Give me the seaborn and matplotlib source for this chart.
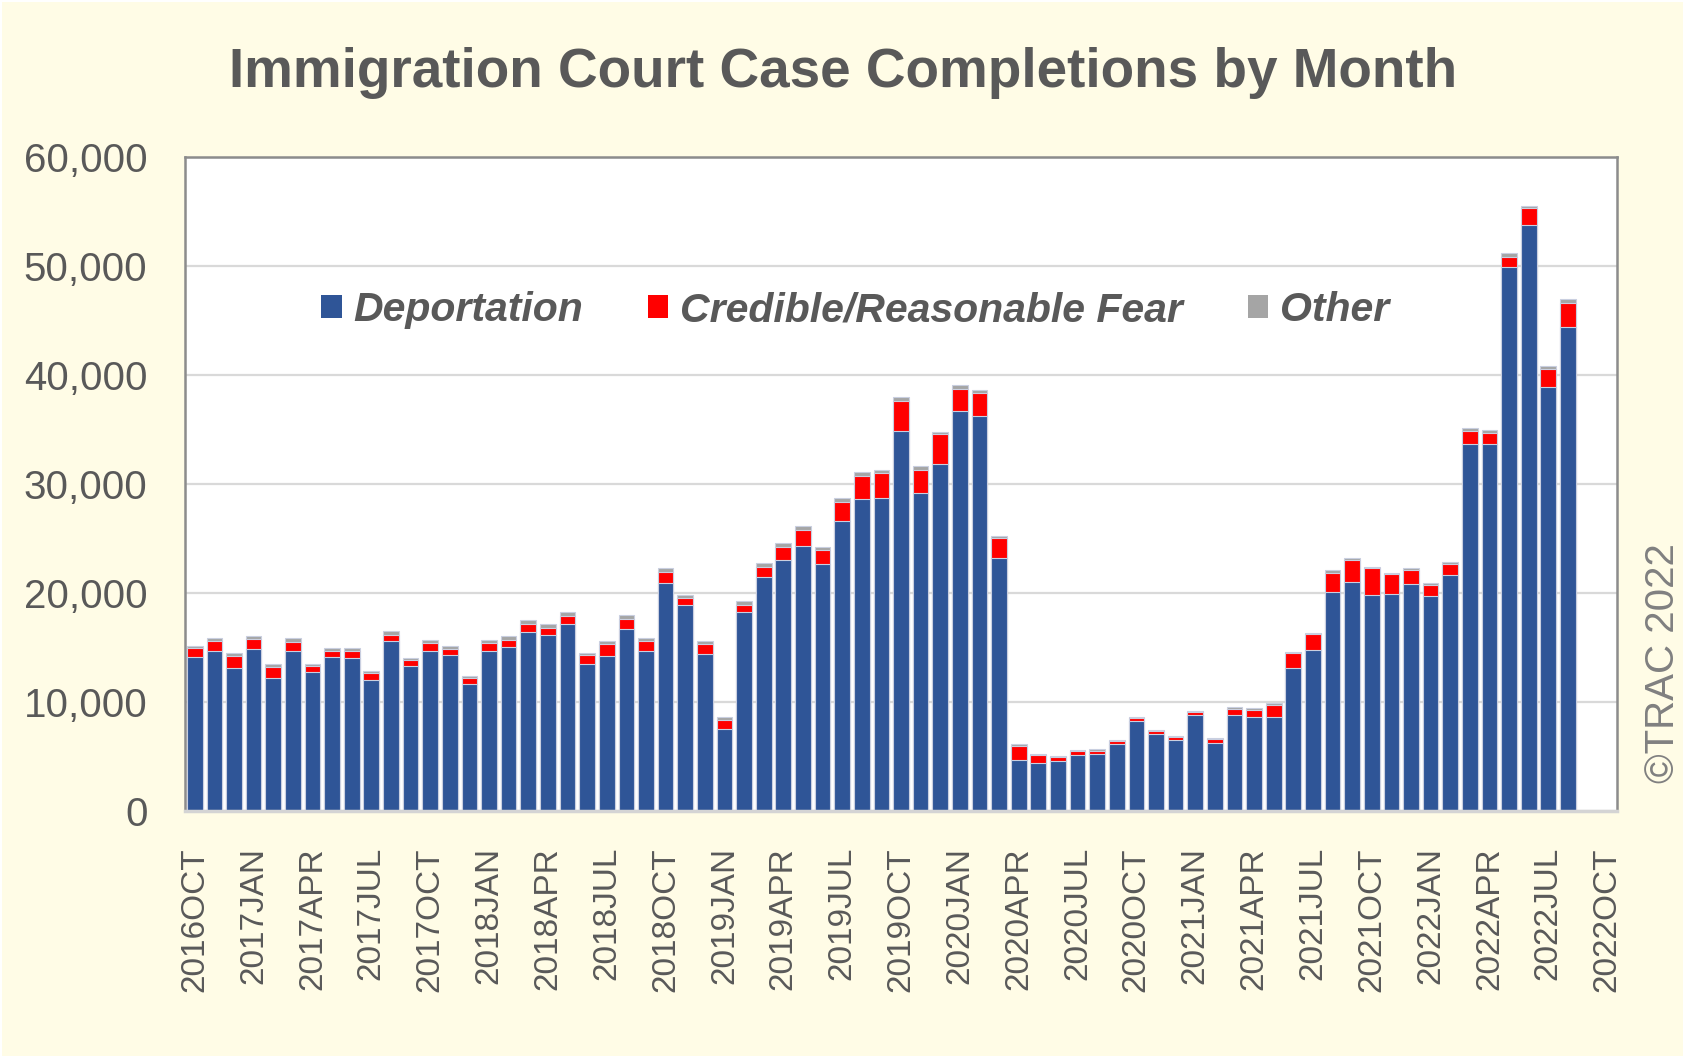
import matplotlib
matplotlib.use('Agg')
import matplotlib.pyplot as plt
import seaborn as sns
import pandas as pd
from matplotlib.patches import Patch, Rectangle
from matplotlib import font_manager

# ---------------- data ----------------
MONTH_ABBR = ['JAN', 'FEB', 'MAR', 'APR', 'MAY', 'JUN',
              'JUL', 'AUG', 'SEP', 'OCT', 'NOV', 'DEC']
N_SLOTS = 73          # 2016OCT ... 2022OCT on the category axis
months_all = [f"{2016 + (9 + i) // 12}{MONTH_ABBR[(9 + i) % 12]}" for i in range(N_SLOTS)]

deportation = [14150, 14660, 13150, 14860, 12190, 14660, 12710, 14100, 14020, 11990,
               15580, 13270, 14660, 14300, 11630, 14660, 15060, 16450, 16180, 17170,
               13470, 14180, 16690, 14660, 20920, 18920, 14380, 7530, 18290, 21470,
               23070, 24340, 22670, 26610, 28650, 28730, 34900, 29200, 31870, 36690,
               36220, 23230,
               4700, 4420, 4540, 5100, 5220, 6100, 8210, 7090, 6530, 8760,
               6220, 8760, 8610, 8610, 13110, 14780, 20120, 21040,
               19840, 19880, 20840, 19760, 21630, 33700, 33700, 49880, 53750, 38880, 44380]

credible_fear = [830, 920, 1040, 920, 1000, 800, 560, 560, 640, 680,
                 600, 600, 720, 600, 560, 720, 640, 720, 600, 720,
                 800, 1120, 960, 920, 1040, 640, 920, 840, 600, 880,
                 1150, 1470, 1270, 1710, 2070, 2270, 2710, 2110, 2750, 2070,
                 2150, 1830,
                 1240, 680, 440, 400, 320, 280, 320, 280, 280, 320,
                 400, 640, 680, 1110, 1350, 1430, 1750, 1990,
                 2430, 1870, 1310, 1000, 1040, 1120, 1000, 960, 1550, 1710, 2270]

other = [200, 280, 280, 280, 280, 400, 240, 320, 320, 200,
         320, 120, 320, 280, 200, 280, 360, 320, 400, 360,
         200, 280, 320, 280, 320, 280, 280, 240, 360, 400,
         320, 320, 320, 400, 400, 320, 400, 320, 160, 320,
         240, 160,
         160, 120, 80, 120, 160, 160, 120, 80, 80, 80,
         80, 120, 120, 160, 120, 120, 200, 200,
         120, 120, 160, 120, 200, 280, 280, 320, 240, 240, 280]

tick_labels = ['2016OCT', '2017JAN', '2017APR', '2017JUL', '2017OCT', '2018JAN', '2018APR',
               '2018JUL', '2018OCT', '2019JAN', '2019APR', '2019JUL', '2019OCT', '2020JAN',
               '2020APR', '2020JUL', '2020OCT', '2021JAN', '2021APR', '2021JUL', '2021OCT',
               '2022JAN', '2022APR', '2022JUL', '2022OCT']

series_names = ['Deportation', 'Credible/Reasonable Fear', 'Other']
title = 'Immigration Court Case Completions by Month'

# ---------------- style ----------------
BLUE, RED, GRAY = '#2F5597', '#FF0000', '#A5A5A5'
CREAM = '#FFFCE6'
TXT = '#595959'
EDGE = '#c9cfe0'

sns.set_style('white')
plt.rcParams['font.family'] = ['Liberation Sans', 'DejaVu Sans']

names = {f.name for f in font_manager.fontManager.ttflist}
if 'Liberation Sans Narrow' in names:
    xfont, xsize = ['Liberation Sans Narrow', 'Liberation Sans'], 29
else:
    xfont, xsize = ['Liberation Sans', 'DejaVu Sans'], 24

df = pd.DataFrame({'month': months_all[:len(deportation)],
                   'dep': deportation, 'fear': credible_fear, 'other': other})
df['dep_fear'] = df['dep'] + df['fear']
df['total'] = df['dep_fear'] + df['other']

fig = plt.figure(figsize=(16.91, 10.63), dpi=100, facecolor='white')
fig.patches.append(Rectangle((2 / 1691, 7 / 1063), 1681 / 1691, 1054 / 1063,
                             transform=fig.transFigure, facecolor=CREAM,
                             edgecolor='none', zorder=-10))

ax = fig.add_axes([0.1094, 0.2371, 0.8468, 0.6152])
ax.set_facecolor('white')

for col, color in [('total', GRAY), ('dep_fear', RED), ('dep', BLUE)]:
    sns.barplot(data=df, x='month', y=col, order=months_all, color=color,
                saturation=1, width=0.8, errorbar=None, edgecolor=EDGE,
                linewidth=0.8, ax=ax)

ax.set_xlim(-0.5, N_SLOTS - 0.5)
ax.set_ylim(0, 60000)
ax.set_yticks(range(0, 60001, 10000))
ax.set_yticklabels([f"{v:,}" for v in range(0, 60001, 10000)],
                   fontsize=29, color=TXT)
ax.set_xticks(range(0, N_SLOTS, 3))
ax.set_xticklabels(tick_labels, rotation=90, fontsize=xsize, color=TXT,
                   family=xfont, va='top', ha='center')
ax.set_xlabel('')
ax.set_ylabel('')
ax.tick_params(axis='both', length=0)
ax.tick_params(axis='y', pad=27)
ax.tick_params(axis='x', pad=26)

ax.grid(axis='y', color='#d9d9d9', linewidth=1.6)
ax.grid(axis='x', visible=False)
ax.set_axisbelow(True)

for s in ['left', 'top', 'right']:
    ax.spines[s].set_color('#8c8c8c')
    ax.spines[s].set_linewidth(1.8)
    ax.spines[s].set_visible(True)
ax.spines['bottom'].set_color('#d4d4d4')
ax.spines['bottom'].set_linewidth(2.5)
ax.spines['bottom'].set_visible(True)

handles = [Patch(facecolor=c, edgecolor='none') for c in (BLUE, RED, GRAY)]
leg = ax.legend(handles, series_names, loc='center', bbox_to_anchor=(0.468, 0.766),
                ncol=3, frameon=False, handlelength=0.5, handleheight=0.5,
                handletextpad=0.28, columnspacing=1.59, borderpad=0,
                prop={'family': 'Liberation Sans', 'weight': 'bold',
                      'style': 'italic', 'size': 29.5},
                labelcolor=TXT)

fig.text(0.4987, 0.931, title, ha='center', va='center', fontsize=39.5,
         fontweight='bold', color=TXT)
fig.text(1663 / 1691, 1 - 663 / 1063, '©TRAC 2022', rotation=90, ha='center',
         va='center', fontsize=29, color='#808080')

fig.savefig('out.png', dpi=100, facecolor=fig.get_facecolor())
